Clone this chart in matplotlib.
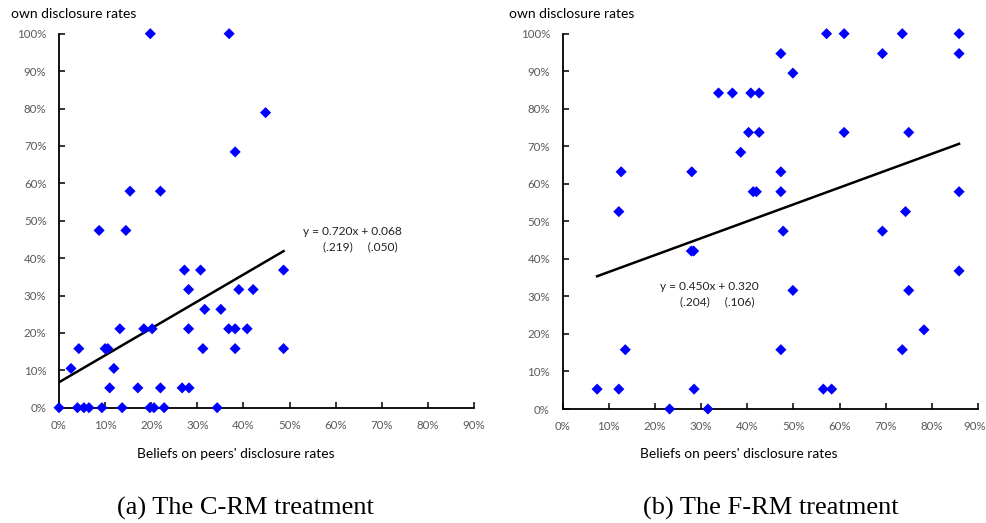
import matplotlib
matplotlib.use("Agg")
import matplotlib.pyplot as plt
from matplotlib.ticker import FuncFormatter
from matplotlib.transforms import ScaledTranslation
import numpy as np

# ---- data (fractions) ----
crm_beliefs = [0.000, 0.026, 0.043, 0.040, 0.054, 0.065, 0.087, 0.093, 0.100, 0.106,
               0.119, 0.110, 0.132, 0.137, 0.145, 0.171, 0.184, 0.197, 0.202, 0.206,
               0.220, 0.228, 0.267, 0.282, 0.272, 0.281, 0.281, 0.307, 0.316, 0.312,
               0.343, 0.351, 0.368, 0.382, 0.382, 0.390, 0.408, 0.421, 0.487, 0.487,
               0.198, 0.369, 0.382, 0.154, 0.220, 0.448]
crm_own = [0.000, 0.105, 0.158, 0.000, 0.000, 0.000, 0.474, 0.000, 0.158, 0.158,
           0.105, 0.053, 0.211, 0.000, 0.474, 0.053, 0.211, 0.000, 0.211, 0.000,
           0.053, 0.000, 0.053, 0.053, 0.368, 0.316, 0.211, 0.368, 0.263, 0.158,
           0.000, 0.263, 0.211, 0.211, 0.158, 0.316, 0.211, 0.316, 0.368, 0.158,
           1.000, 1.000, 0.684, 0.579, 0.579, 0.789]

frm_beliefs = [0.127, 0.122, 0.280, 0.338, 0.368, 0.408, 0.426, 0.403, 0.426, 0.386,
               0.572, 0.610, 0.736, 0.859, 0.473, 0.693, 0.859, 0.499, 0.610, 0.750,
               0.473, 0.413, 0.420, 0.473, 0.859, 0.743, 0.478, 0.693, 0.279, 0.284,
               0.136, 0.075, 0.122, 0.285, 0.232, 0.315, 0.859, 0.499, 0.750, 0.783,
               0.473, 0.736, 0.565, 0.583]
frm_own = [0.632, 0.526, 0.632, 0.842, 0.842, 0.842, 0.842, 0.737, 0.737, 0.684,
           1.000, 1.000, 1.000, 1.000, 0.947, 0.947, 0.947, 0.895, 0.737, 0.737,
           0.632, 0.579, 0.579, 0.579, 0.579, 0.526, 0.474, 0.474, 0.421, 0.421,
           0.158, 0.053, 0.053, 0.053, 0.000, 0.000, 0.368, 0.316, 0.316, 0.211,
           0.158, 0.158, 0.053, 0.053]

crm_slope, crm_intercept = 0.720, 0.068
frm_slope, frm_intercept = 0.450, 0.320
crm_eq = ["y = 0.720x + 0.068", "(.219)     (.050)"]
frm_eq = ["y = 0.450x + 0.320", "(.204)     (.106)"]

x_ticks = [0.0, 0.1, 0.2, 0.3, 0.4, 0.5, 0.6, 0.7, 0.8, 0.9]
y_ticks = [0.0, 0.1, 0.2, 0.3, 0.4, 0.5, 0.6, 0.7, 0.8, 0.9, 1.0]
captions = ["(a) The C-RM treatment", "(b) The F-RM treatment"]
xlabel = "Beliefs on peers' disclosure rates"
ylabel = "own disclosure rates"

SANS = ["Lato", "DejaVu Sans"]
SERIF = ["Liberation Serif", "DejaVu Serif"]
GREY = "#595959"

W, H = 987, 523
fig = plt.figure(figsize=(W / 100, H / 100), dpi=100)

def px_axes(x0, x1, y0, y1):
    return fig.add_axes([x0 / W, (H - y0) / H, (x1 - x0) / W, (y0 - y1) / H])

panels = [
    dict(bx=crm_beliefs, oy=crm_own, b=crm_slope, a=crm_intercept, eq=crm_eq,
         rect=(59, 474, 407.7, 33.7), eqpos=(352, 231), eq2pos=(360, 247),
         cap=captions[0], capx=245, xlx=236, ylx=11),
    dict(bx=frm_beliefs, oy=frm_own, b=frm_slope, a=frm_intercept, eq=frm_eq,
         rect=(562.5, 978, 409, 33.7), eqpos=(709, 286), eq2pos=(717, 302),
         cap=captions[1], capx=771, xlx=739, ylx=509),
]

pct = FuncFormatter(lambda v, p: f"{v * 100:.0f}%")

for i, p in enumerate(panels):
    x0, x1, y0, y1 = p["rect"]
    ax = px_axes(x0, x1, y0, y1)
    ax.set_xlim(0, 0.9)
    ax.set_ylim(0, 1.0)
    ax.set_xticks(x_ticks)
    ax.set_yticks(y_ticks)
    ax.xaxis.set_major_formatter(pct)
    ax.yaxis.set_major_formatter(pct)
    for s in ["top", "right"]:
        ax.spines[s].set_visible(False)
    for s in ["left", "bottom"]:
        ax.spines[s].set_linewidth(1.3)
        ax.spines[s].set_color("black")
    ax.tick_params(axis="both", direction="in", length=4, width=1.1, color="black",
                   labelcolor=GREY, labelsize=8.3)
    ax.tick_params(axis="x", pad=9)
    ax.tick_params(axis="y", pad=9)
    for lab in ax.get_xticklabels() + ax.get_yticklabels():
        lab.set_family(SANS)
    if i == 1:
        last = ax.get_xticklabels()[-1]
        last.set_transform(last.get_transform() + ScaledTranslation(-3 / 100, 0, fig.dpi_scale_trans))

    bx = np.array(p["bx"])
    xs = np.array([bx.min(), bx.max()])
    ax.plot(xs, p["a"] + p["b"] * xs, color="black", lw=1.8, zorder=2)
    ax.scatter(bx, p["oy"], marker="D", s=32, color="#0000FF", edgecolors="none",
               zorder=3, clip_on=False)

    fig.text(p["eqpos"][0] / W, 1 - p["eqpos"][1] / H, p["eq"][0], family=SANS,
             fontsize=8.6, ha="center", va="center", color="#222222")
    fig.text(p["eq2pos"][0] / W, 1 - p["eq2pos"][1] / H, p["eq"][1], family=SANS,
             fontsize=8.6, ha="center", va="center", color="#222222")
    fig.text(p["xlx"] / W, 1 - 454 / H, xlabel, family=SANS, fontsize=9.9,
             ha="center", va="center", color="black")
    fig.text(p["ylx"] / W, 1 - 14 / H, ylabel, family=SANS, fontsize=10,
             ha="left", va="center", color="black")
    fig.text(p["capx"] / W, 1 - 508 / H, p["cap"], family=SERIF, fontsize=19,
             ha="center", va="center", color="black")

fig.savefig("out.png", dpi=100)
